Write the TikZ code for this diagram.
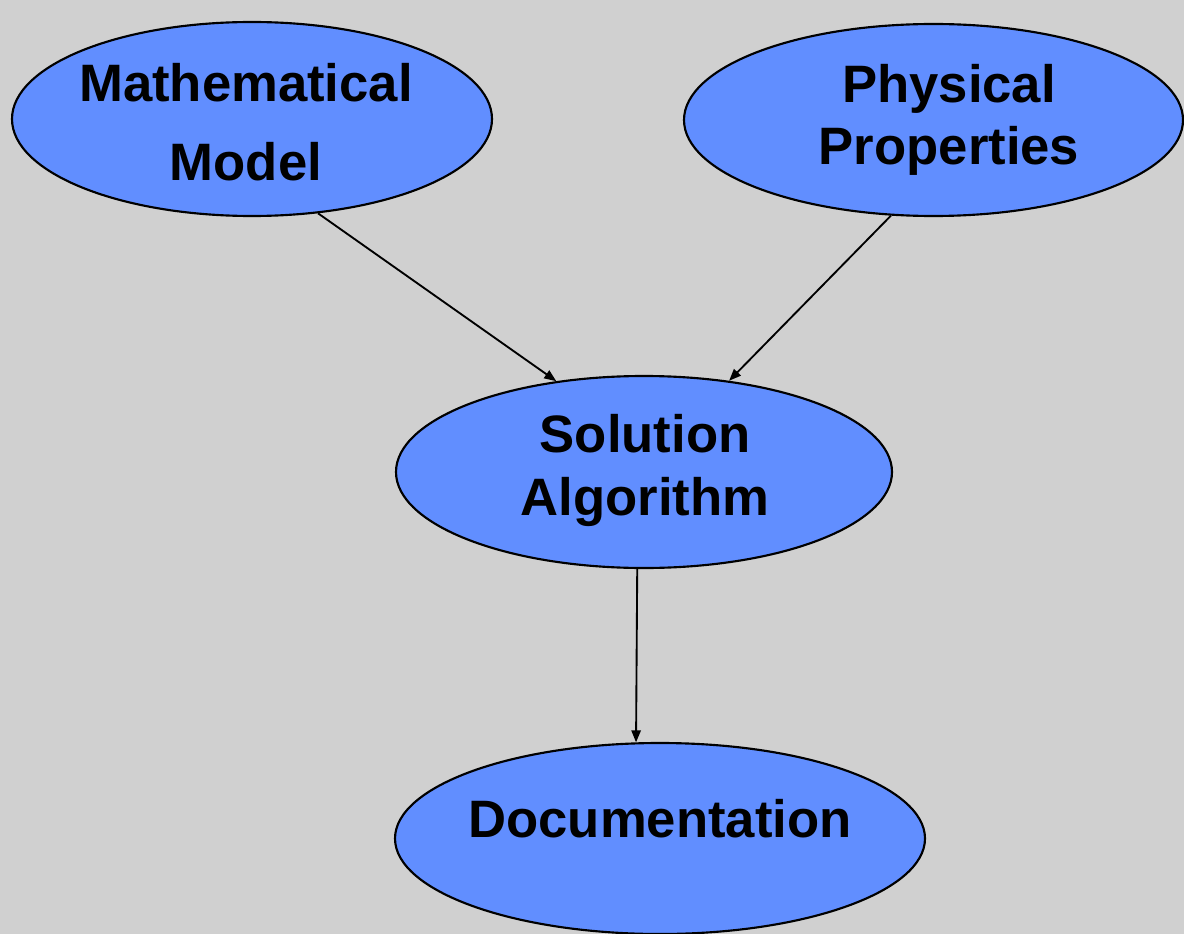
\documentclass[tikz,border=0pt]{standalone}
\usepackage{fontspec}
\setmainfont{Liberation Sans}
\usetikzlibrary{shapes.geometric,arrows.meta}
\definecolor{bggray}{RGB}{208,208,208}
\definecolor{blobblue}{RGB}{97,142,255}
\begin{document}
\begin{tikzpicture}[x=0.75pt,y=-0.75pt,
    blob/.style={ellipse,draw,line width=1.6pt,fill=blobblue,inner sep=0pt},
    txt/.style={anchor=base,align=center,font=\bfseries\fontsize{39.5}{47}\selectfont},
    arr/.style={-{Triangle[length=9pt,width=7pt]},line width=1.4pt}]
  \fill[bggray] (0,0) rectangle (1184,934);
  \useasboundingbox (0,0) rectangle (1184,934);
  % the four ellipses
  \node[blob,minimum width=360pt,minimum height=145.5pt] (math) at (252,119) {};
  \node[blob,minimum width=374.25pt,minimum height=144pt] (phys) at (933.5,120) {};
  \node[blob,minimum width=372pt,minimum height=144pt] (sol) at (644,472) {};
  \node[blob,minimum width=397.5pt,minimum height=143.25pt] (doc) at (660,838.5) {};
  % texts (base = last line)
  \node[txt,font=\bfseries\fontsize{39.5}{59.25}\selectfont] (mathtxt) at (246,181) {Mathematical\\Model};
  \node[txt] (phystxt) at (949,165) {Physical\\Properties};
  \node[txt] (soltxt) at (645,515) {Solution\\Algorithm};
  \node[txt] (doctxt) at (660,837) {Documentation};
  % arrows
  \draw[arr] (math.-55.7) -- (sol.134.7);
  \draw[arr] (phys.-114.4) -- (sol.47.2);
  \draw[arr] (sol.-94.8) -- (doc.104.1);
\end{tikzpicture}
\end{document}
